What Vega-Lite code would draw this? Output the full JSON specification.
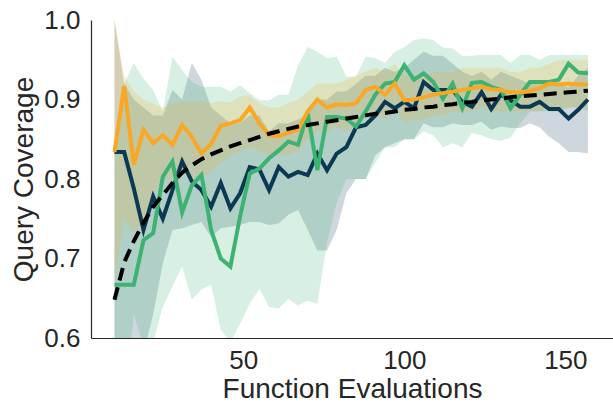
{
  "$schema": "https://vega.github.io/schema/vega-lite/v6.json",
  "width": 522,
  "height": 318,
  "autosize": "none",
  "padding": {"left": 91, "top": 20, "right": 0, "bottom": 65},
  "background": "white",
  "config": {
    "view": {"stroke": null},
    "font": "Liberation Sans",
    "axis": {"grid": false, "ticks": false, "domainColor": "#262626", "domainWidth": 1.2, "labelColor": "#262626", "titleColor": "#262626", "labelFont": "Liberation Sans", "titleFont": "Liberation Sans", "titleFontWeight": "normal", "labelFontSize": 26, "titleFontSize": 28}
  },
  "datasets": {
    "runs": [
      {"x":10,"s":"navy","m":0.834,"lo":0.55,"hi":1.0},
      {"x":13,"s":"navy","m":0.834,"lo":0.56,"hi":0.92},
      {"x":16,"s":"navy","m":0.788,"lo":0.57,"hi":0.90},
      {"x":19,"s":"navy","m":0.736,"lo":0.58,"hi":0.89},
      {"x":22,"s":"navy","m":0.778,"lo":0.63,"hi":0.88},
      {"x":25,"s":"navy","m":0.750,"lo":0.694,"hi":0.88},
      {"x":28,"s":"navy","m":0.786,"lo":0.736,"hi":0.912},
      {"x":31,"s":"navy","m":0.822,"lo":0.738,"hi":0.90},
      {"x":34,"s":"navy","m":0.797,"lo":0.742,"hi":0.946},
      {"x":37,"s":"navy","m":0.786,"lo":0.746,"hi":0.925},
      {"x":40,"s":"navy","m":0.765,"lo":0.727,"hi":0.89},
      {"x":43,"s":"navy","m":0.795,"lo":0.738,"hi":0.88},
      {"x":46,"s":"navy","m":0.763,"lo":0.74,"hi":0.87},
      {"x":49,"s":"navy","m":0.782,"lo":0.742,"hi":0.87},
      {"x":52,"s":"navy","m":0.815,"lo":0.746,"hi":0.88},
      {"x":55,"s":"navy","m":0.812,"lo":0.746,"hi":0.88},
      {"x":58,"s":"navy","m":0.786,"lo":0.742,"hi":0.86},
      {"x":61,"s":"navy","m":0.815,"lo":0.744,"hi":0.87},
      {"x":64,"s":"navy","m":0.803,"lo":0.755,"hi":0.87},
      {"x":67,"s":"navy","m":0.809,"lo":0.761,"hi":0.875},
      {"x":70,"s":"navy","m":0.805,"lo":0.736,"hi":0.88},
      {"x":73,"s":"navy","m":0.832,"lo":0.71,"hi":0.90},
      {"x":76,"s":"navy","m":0.811,"lo":0.71,"hi":0.90},
      {"x":79,"s":"navy","m":0.832,"lo":0.736,"hi":0.91},
      {"x":82,"s":"navy","m":0.840,"lo":0.782,"hi":0.91},
      {"x":85,"s":"navy","m":0.865,"lo":0.80,"hi":0.92},
      {"x":88,"s":"navy","m":0.868,"lo":0.80,"hi":0.93},
      {"x":91,"s":"navy","m":0.880,"lo":0.83,"hi":0.93},
      {"x":94,"s":"navy","m":0.897,"lo":0.84,"hi":0.94},
      {"x":97,"s":"navy","m":0.889,"lo":0.845,"hi":0.935},
      {"x":100,"s":"navy","m":0.897,"lo":0.85,"hi":0.94},
      {"x":103,"s":"navy","m":0.889,"lo":0.85,"hi":0.95},
      {"x":106,"s":"navy","m":0.922,"lo":0.87,"hi":0.96},
      {"x":109,"s":"navy","m":0.912,"lo":0.865,"hi":0.955},
      {"x":112,"s":"navy","m":0.912,"lo":0.865,"hi":0.955},
      {"x":115,"s":"navy","m":0.912,"lo":0.87,"hi":0.945},
      {"x":118,"s":"navy","m":0.897,"lo":0.868,"hi":0.935},
      {"x":121,"s":"navy","m":0.891,"lo":0.868,"hi":0.93},
      {"x":124,"s":"navy","m":0.909,"lo":0.872,"hi":0.935},
      {"x":127,"s":"navy","m":0.888,"lo":0.862,"hi":0.925},
      {"x":130,"s":"navy","m":0.906,"lo":0.866,"hi":0.935},
      {"x":133,"s":"navy","m":0.899,"lo":0.864,"hi":0.93},
      {"x":136,"s":"navy","m":0.891,"lo":0.864,"hi":0.925},
      {"x":139,"s":"navy","m":0.891,"lo":0.87,"hi":0.92},
      {"x":142,"s":"navy","m":0.897,"lo":0.865,"hi":0.925},
      {"x":145,"s":"navy","m":0.888,"lo":0.853,"hi":0.92},
      {"x":148,"s":"navy","m":0.888,"lo":0.845,"hi":0.92},
      {"x":151,"s":"navy","m":0.876,"lo":0.834,"hi":0.915},
      {"x":154,"s":"navy","m":0.887,"lo":0.834,"hi":0.93},
      {"x":157,"s":"navy","m":0.900,"lo":0.832,"hi":0.94},

      {"x":10,"s":"green","m":0.667,"lo":0.52,"hi":0.84},
      {"x":13,"s":"green","m":0.667,"lo":0.52,"hi":0.92},
      {"x":16,"s":"green","m":0.667,"lo":0.63,"hi":0.946},
      {"x":19,"s":"green","m":0.723,"lo":0.59,"hi":0.926},
      {"x":22,"s":"green","m":0.732,"lo":0.595,"hi":0.912},
      {"x":25,"s":"green","m":0.803,"lo":0.639,"hi":0.885},
      {"x":28,"s":"green","m":0.822,"lo":0.665,"hi":0.954},
      {"x":31,"s":"green","m":0.758,"lo":0.69,"hi":0.937},
      {"x":34,"s":"green","m":0.792,"lo":0.648,"hi":0.922},
      {"x":37,"s":"green","m":0.805,"lo":0.661,"hi":0.916},
      {"x":40,"s":"green","m":0.736,"lo":0.667,"hi":0.916},
      {"x":43,"s":"green","m":0.700,"lo":0.61,"hi":0.916},
      {"x":46,"s":"green","m":0.690,"lo":0.595,"hi":0.91},
      {"x":49,"s":"green","m":0.753,"lo":0.618,"hi":0.918},
      {"x":52,"s":"green","m":0.807,"lo":0.643,"hi":0.908},
      {"x":55,"s":"green","m":0.813,"lo":0.662,"hi":0.899},
      {"x":58,"s":"green","m":0.826,"lo":0.639,"hi":0.899},
      {"x":61,"s":"green","m":0.836,"lo":0.637,"hi":0.906},
      {"x":64,"s":"green","m":0.847,"lo":0.649,"hi":0.906},
      {"x":67,"s":"green","m":0.843,"lo":0.641,"hi":0.943},
      {"x":70,"s":"green","m":0.883,"lo":0.647,"hi":0.966},
      {"x":73,"s":"green","m":0.811,"lo":0.643,"hi":0.96},
      {"x":76,"s":"green","m":0.878,"lo":0.72,"hi":0.952},
      {"x":79,"s":"green","m":0.878,"lo":0.77,"hi":0.954},
      {"x":82,"s":"green","m":0.876,"lo":0.80,"hi":0.929},
      {"x":85,"s":"green","m":0.866,"lo":0.80,"hi":0.929},
      {"x":88,"s":"green","m":0.885,"lo":0.80,"hi":0.954},
      {"x":91,"s":"green","m":0.906,"lo":0.82,"hi":0.952},
      {"x":94,"s":"green","m":0.920,"lo":0.84,"hi":0.946},
      {"x":97,"s":"green","m":0.922,"lo":0.84,"hi":0.96},
      {"x":100,"s":"green","m":0.943,"lo":0.85,"hi":0.966},
      {"x":103,"s":"green","m":0.925,"lo":0.85,"hi":0.975},
      {"x":106,"s":"green","m":0.933,"lo":0.86,"hi":0.977},
      {"x":109,"s":"green","m":0.922,"lo":0.855,"hi":0.975},
      {"x":112,"s":"green","m":0.901,"lo":0.84,"hi":0.965},
      {"x":115,"s":"green","m":0.920,"lo":0.845,"hi":0.964},
      {"x":118,"s":"green","m":0.889,"lo":0.84,"hi":0.955},
      {"x":121,"s":"green","m":0.921,"lo":0.858,"hi":0.955},
      {"x":124,"s":"green","m":0.922,"lo":0.855,"hi":0.956},
      {"x":127,"s":"green","m":0.916,"lo":0.85,"hi":0.956},
      {"x":130,"s":"green","m":0.912,"lo":0.848,"hi":0.956},
      {"x":133,"s":"green","m":0.889,"lo":0.852,"hi":0.946},
      {"x":136,"s":"green","m":0.906,"lo":0.87,"hi":0.956},
      {"x":139,"s":"green","m":0.922,"lo":0.885,"hi":0.956},
      {"x":142,"s":"green","m":0.922,"lo":0.885,"hi":0.95},
      {"x":145,"s":"green","m":0.922,"lo":0.885,"hi":0.956},
      {"x":148,"s":"green","m":0.925,"lo":0.885,"hi":0.956},
      {"x":151,"s":"green","m":0.945,"lo":0.89,"hi":0.956},
      {"x":154,"s":"green","m":0.934,"lo":0.89,"hi":0.956},
      {"x":157,"s":"green","m":0.933,"lo":0.885,"hi":0.956},

      {"x":10,"s":"orange","m":0.834,"lo":0.67,"hi":1.0},
      {"x":13,"s":"orange","m":0.917,"lo":0.75,"hi":0.93},
      {"x":16,"s":"orange","m":0.818,"lo":0.732,"hi":0.91},
      {"x":19,"s":"orange","m":0.862,"lo":0.75,"hi":0.90},
      {"x":22,"s":"orange","m":0.845,"lo":0.78,"hi":0.895},
      {"x":25,"s":"orange","m":0.855,"lo":0.80,"hi":0.89},
      {"x":28,"s":"orange","m":0.843,"lo":0.80,"hi":0.895},
      {"x":31,"s":"orange","m":0.868,"lo":0.81,"hi":0.897},
      {"x":34,"s":"orange","m":0.853,"lo":0.80,"hi":0.898},
      {"x":37,"s":"orange","m":0.832,"lo":0.80,"hi":0.898},
      {"x":40,"s":"orange","m":0.844,"lo":0.81,"hi":0.895},
      {"x":43,"s":"orange","m":0.867,"lo":0.82,"hi":0.898},
      {"x":46,"s":"orange","m":0.870,"lo":0.83,"hi":0.896},
      {"x":49,"s":"orange","m":0.874,"lo":0.835,"hi":0.904},
      {"x":52,"s":"orange","m":0.890,"lo":0.84,"hi":0.905},
      {"x":55,"s":"orange","m":0.870,"lo":0.835,"hi":0.895},
      {"x":58,"s":"orange","m":0.855,"lo":0.83,"hi":0.89},
      {"x":61,"s":"orange","m":0.854,"lo":0.83,"hi":0.89},
      {"x":64,"s":"orange","m":0.858,"lo":0.83,"hi":0.895},
      {"x":67,"s":"orange","m":0.862,"lo":0.835,"hi":0.90},
      {"x":70,"s":"orange","m":0.885,"lo":0.85,"hi":0.91},
      {"x":73,"s":"orange","m":0.900,"lo":0.86,"hi":0.92},
      {"x":76,"s":"orange","m":0.890,"lo":0.86,"hi":0.92},
      {"x":79,"s":"orange","m":0.894,"lo":0.865,"hi":0.92},
      {"x":82,"s":"orange","m":0.893,"lo":0.86,"hi":0.925},
      {"x":85,"s":"orange","m":0.895,"lo":0.865,"hi":0.93},
      {"x":88,"s":"orange","m":0.912,"lo":0.88,"hi":0.935},
      {"x":91,"s":"orange","m":0.916,"lo":0.885,"hi":0.94},
      {"x":94,"s":"orange","m":0.906,"lo":0.875,"hi":0.935},
      {"x":97,"s":"orange","m":0.920,"lo":0.89,"hi":0.945},
      {"x":100,"s":"orange","m":0.899,"lo":0.87,"hi":0.93},
      {"x":103,"s":"orange","m":0.900,"lo":0.875,"hi":0.93},
      {"x":106,"s":"orange","m":0.903,"lo":0.875,"hi":0.93},
      {"x":109,"s":"orange","m":0.906,"lo":0.88,"hi":0.935},
      {"x":112,"s":"orange","m":0.908,"lo":0.88,"hi":0.935},
      {"x":115,"s":"orange","m":0.910,"lo":0.885,"hi":0.935},
      {"x":118,"s":"orange","m":0.912,"lo":0.885,"hi":0.94},
      {"x":121,"s":"orange","m":0.914,"lo":0.885,"hi":0.94},
      {"x":124,"s":"orange","m":0.916,"lo":0.89,"hi":0.94},
      {"x":127,"s":"orange","m":0.913,"lo":0.885,"hi":0.94},
      {"x":130,"s":"orange","m":0.912,"lo":0.885,"hi":0.94},
      {"x":133,"s":"orange","m":0.909,"lo":0.885,"hi":0.935},
      {"x":136,"s":"orange","m":0.909,"lo":0.885,"hi":0.935},
      {"x":139,"s":"orange","m":0.911,"lo":0.885,"hi":0.94},
      {"x":142,"s":"orange","m":0.914,"lo":0.885,"hi":0.94},
      {"x":145,"s":"orange","m":0.920,"lo":0.89,"hi":0.945},
      {"x":148,"s":"orange","m":0.919,"lo":0.89,"hi":0.95},
      {"x":151,"s":"orange","m":0.920,"lo":0.89,"hi":0.95},
      {"x":154,"s":"orange","m":0.919,"lo":0.89,"hi":0.95},
      {"x":157,"s":"orange","m":0.919,"lo":0.89,"hi":0.95}
    ],
    "fit": [
      {"x":10,"f":0.648},{"x":13,"f":0.695},{"x":16,"f":0.722},{"x":19,"f":0.745},{"x":22,"f":0.765},
      {"x":25,"f":0.780},{"x":28,"f":0.795},{"x":31,"f":0.808},{"x":34,"f":0.817},{"x":37,"f":0.825},
      {"x":40,"f":0.831},{"x":43,"f":0.836},{"x":46,"f":0.841},{"x":49,"f":0.845},{"x":52,"f":0.849},
      {"x":55,"f":0.853},{"x":58,"f":0.857},{"x":61,"f":0.860},{"x":64,"f":0.863},{"x":67,"f":0.866},
      {"x":70,"f":0.868},{"x":73,"f":0.870},{"x":76,"f":0.872},{"x":79,"f":0.874},{"x":82,"f":0.876},
      {"x":85,"f":0.878},{"x":88,"f":0.880},{"x":91,"f":0.882},{"x":94,"f":0.883},{"x":97,"f":0.885},
      {"x":100,"f":0.887},{"x":103,"f":0.888},{"x":106,"f":0.890},{"x":109,"f":0.891},{"x":112,"f":0.893},
      {"x":115,"f":0.894},{"x":118,"f":0.896},{"x":121,"f":0.897},{"x":124,"f":0.899},{"x":127,"f":0.900},
      {"x":130,"f":0.901},{"x":133,"f":0.903},{"x":136,"f":0.904},{"x":139,"f":0.905},{"x":142,"f":0.906},
      {"x":145,"f":0.907},{"x":148,"f":0.908},{"x":151,"f":0.909},{"x":154,"f":0.910},{"x":157,"f":0.911}
    ]
  },
  "layer": [
    {
      "data": {"name": "runs"},
      "mark": {"type": "area", "opacity": 0.2, "clip": true},
      "encoding": {
        "x": {"field": "x", "type": "quantitative", "scale": {"domain": [2.7, 164.8], "nice": false, "zero": false}, "axis": {"title": "Function Evaluations", "values": [50, 100, 150], "labelPadding": 9, "titlePadding": 2}},
        "y": {"field": "lo", "type": "quantitative", "scale": {"domain": [0.6, 1.0], "nice": false, "zero": false}, "axis": {"title": "Query Coverage", "values": [0.6, 0.7, 0.8, 0.9, 1.0], "format": ".1f", "labelPadding": 11, "titlePadding": 5}},
        "y2": {"field": "hi"},
        "color": {"field": "s", "type": "nominal", "scale": {"domain": ["navy", "green", "orange"], "range": ["#0b3954", "#3cb371", "#f9a825"]}, "legend": null},
        "detail": {"field": "s"}
      }
    },
    {
      "data": {"name": "runs"},
      "mark": {"type": "line", "strokeWidth": 4, "clip": true},
      "encoding": {
        "x": {"field": "x", "type": "quantitative"},
        "y": {"field": "m", "type": "quantitative"},
        "color": {"field": "s", "type": "nominal", "legend": null},
        "order": {"field": "x"}
      }
    },
    {
      "data": {"name": "fit"},
      "mark": {"type": "line", "strokeWidth": 4, "color": "black", "strokeDash": [13, 7], "clip": true},
      "encoding": {
        "x": {"field": "x", "type": "quantitative"},
        "y": {"field": "f", "type": "quantitative"}
      }
    }
  ]
}
